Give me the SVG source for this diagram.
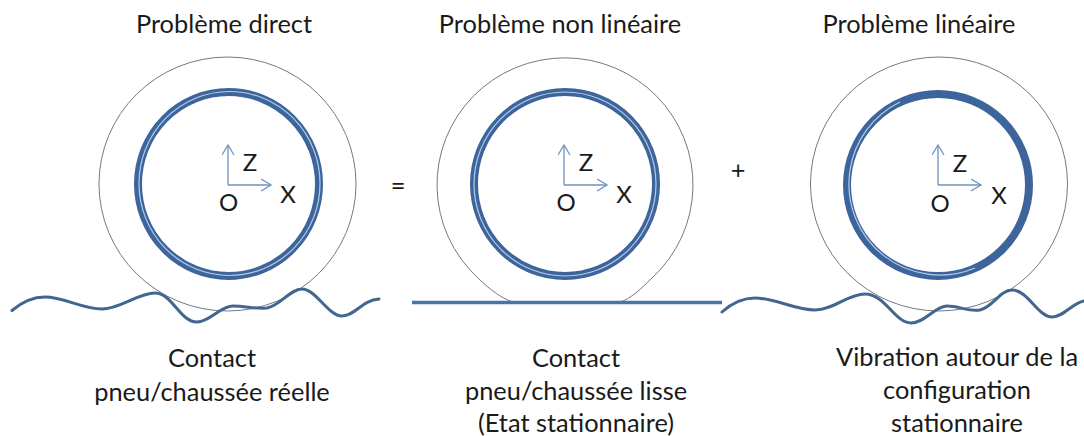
<svg xmlns="http://www.w3.org/2000/svg" width="1084" height="436" viewBox="0 0 1084 436">
<style>
text{font-family:Lato,"Open Sans",sans-serif;font-size:25.4px;fill:#1a1a1a;text-anchor:middle}
.axl{font-size:24px}
.tyre{fill:none;stroke:#6f7a86;stroke-width:1}
.rim{fill:none;stroke:#3d659b;stroke-width:8}
.rimi{fill:none;stroke:#b4cde8;stroke-width:1.2}
.road{fill:none;stroke:#41668f;stroke-width:3;stroke-linecap:round}
.flat{fill:none;stroke:#4a74a8;stroke-width:3.5}
.ax{fill:none;stroke:#6f93bd;stroke-width:1.3}
</style>
<defs>
<marker id="a" markerWidth="14" markerHeight="14" refX="11" refY="6" orient="auto" markerUnits="userSpaceOnUse"><path d="M1 0L11 6L1 12" fill="none" stroke="#6f93bd" stroke-width="1.3"/></marker>
<g id="axes"><path class="ax" d="M0 0V-40" marker-end="url(#a)"/><path class="ax" d="M0 0H43" marker-end="url(#a)"/></g>
</defs>
<rect width="1084" height="436" fill="#fff"/>
<g id="wheel1">
<ellipse class="tyre" cx="227.5" cy="184" rx="128.5" ry="127"/>
<ellipse class="rim" cx="228.5" cy="184" rx="90.5" ry="92"/>
<ellipse class="rimi" cx="229.5" cy="183.5" rx="90.5" ry="92"/>
<use href="#axes" x="228" y="185"/>
<text class="axl" x="250" y="171">Z</text><text class="axl" x="288" y="203">X</text><text class="axl" x="228.500" y="211">O</text>
</g>
<g id="wheel2">
<path class="tyre" d="M513 302C503 299 490 290 478 278A128 127 0 1 1 652 278C640 290 630 299 620 302"/>
<ellipse class="rim" cx="565" cy="184" rx="91" ry="92"/>
<ellipse class="rimi" cx="565" cy="184" rx="91" ry="92"/>
<use href="#axes" x="564" y="185"/>
<text class="axl" x="586" y="171">Z</text><text class="axl" x="624" y="203">X</text><text class="axl" x="566" y="211">O</text>
</g>
<g id="wheel3">
<ellipse class="tyre" cx="939" cy="184" rx="128.500" ry="127"/>
<ellipse class="rim" cx="938" cy="185" rx="91" ry="91"/>
<path class="rimi" d="M975 268A91 91 0 0 1 850 170A91 91 0 0 1 900 102"/>
<use href="#axes" x="938" y="185"/>
<text class="axl" x="960" y="172">Z</text><text class="axl" x="999" y="204">X</text><text class="axl" x="940" y="212">O</text>
</g>
<g id="roads">
<path class="road" d="M12 310.500C22 302 32 297 45 297C64 297 82 309 102 309C120 309 138 293 155 293C172 293 180 322 197 322C210 322 220 306 233 306C246 306 255 309 267 308C280 306 290 289 302 289C316 289 328 316 342 316C355 316 362 300 379 299"/>
<path class="flat" d="M412 302.500H722"/>
<path class="road" d="M722 312C732 303 742 298 755 298C775 298 795 310 815 310C833 310 848 294 865 294C885 294 895 323 911 323C925 323 935 306 947 306C960 306 968 312 980 310C993 307 1000 290 1012 290C1028 290 1038 317 1052 317C1064 317 1072 303 1084 301"/>
</g>
<g id="titles">
<text x="224" y="33">Problème direct</text>
<text x="560" y="33">Problème non linéaire</text>
<text x="919" y="33">Problème linéaire</text>
</g>
<g id="ops"><text x="398" y="195">=</text><text x="738" y="179">+</text></g>
<g id="captions">
<text x="212" y="367">Contact</text>
<text x="212" y="401">pneu/chaussée réelle</text>
<text x="576" y="367">Contact</text>
<text x="576" y="400">pneu/chaussée lisse</text>
<text x="576" y="432">(Etat stationnaire)</text>
<text x="957" y="366">Vibration autour de la</text>
<text x="957" y="399">configuration</text>
<text x="957" y="432">stationnaire</text>
</g>
</svg>
